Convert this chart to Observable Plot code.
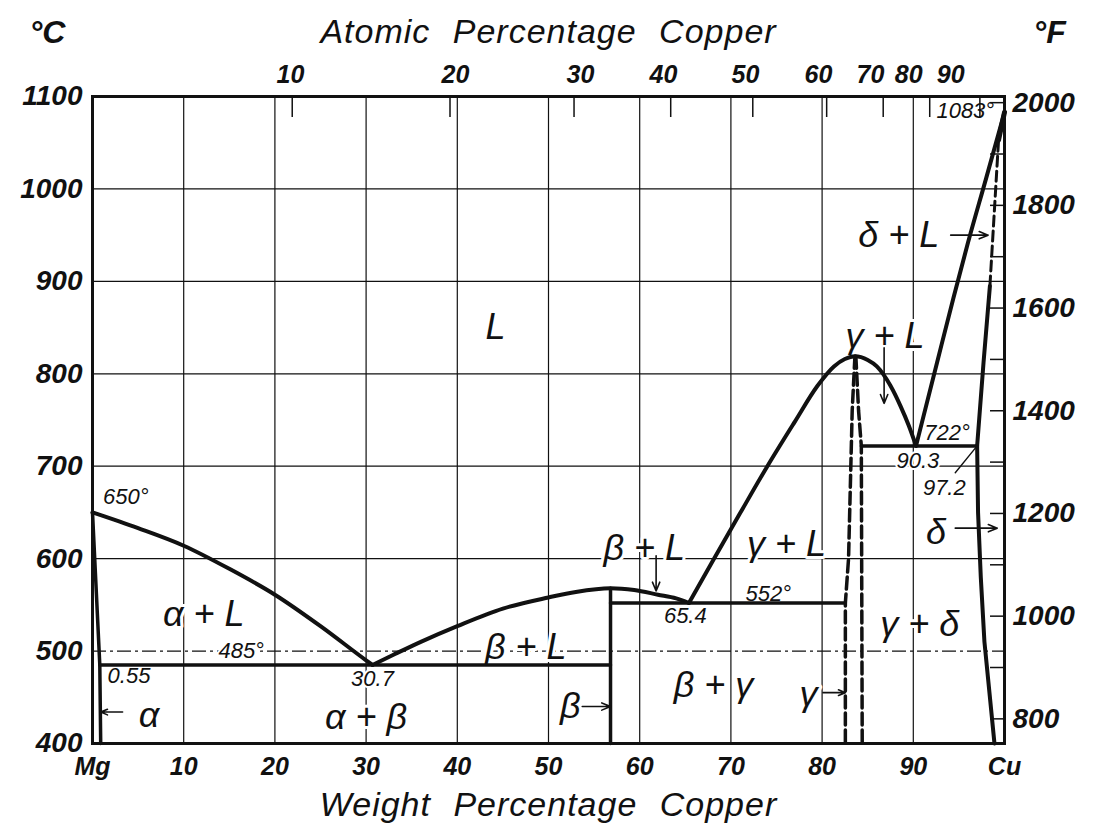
<!DOCTYPE html>
<html><head><meta charset="utf-8">
<script src="https://cdn.jsdelivr.net/npm/d3@7"></script>
<script src="https://cdn.jsdelivr.net/npm/@observablehq/plot@0.6"></script>
<style>body{margin:0;background:#fff} svg{display:block}</style>
</head><body><div id="chart"></div>
<script>
// ---- axis values ----
const weightTicks = [0,10,20,30,40,50,60,70,80,90,100];
const gridWeight = [10,20,30,40,50,60,70,80,90];
const celsiusTicks = [400,500,600,700,800,900,1000,1100];
const gridCelsius = [600,700,800,900,1000];
const dashedCelsius = [500];
const fahrenheitLabels = [800,1000,1200,1400,1600,1800,2000];
const fahrenheitMinor = [800,900,1000,1100,1200,1300,1400,1500,1600,1700,1800,1900,2000];
const atomicLabels = [10,20,30,40,50,60,70,80,90];
const atomicTickWeight = [21.9,39.2,52.8,63.4,72.4,80.5,86.7,91.8,97.3];   // where the atomic ticks sit on the weight scale
const atomicLabelWeight = [21.7,39.8,53.5,62.6,71.6,79.6,85.3,89.5,94.1]; // where their numbers are lettered

// ---- phase boundaries [weight % Cu, °C] ----
const liquidusMg = [[0,650],[5,633],[10,614],[15,589],[20,561],[25,527],[30,490],[30.7,485]];
const liquidusBeta = [[30.7,485],[33,496],[36,510],[40,527],[45,546],[50,558],[53,564],[56.8,568],[59.4,566],[62,561],[64,557],[65.4,552]];
const liquidusGamma = [[65.4,552],[68.1,599],[71,649],[74,700],[77,748],[79.5,787],[81.3,808],[82.5,816],[83.6,819],[85,815],[86,808],[87.5,787],[88.6,765],[89.5,744],[90.3,722]];
const liquidusCu = [[90.3,722],[92.6,812],[94.4,882],[96,942],[98,1012],[100,1083]];
const alphaBoundary = [[0,650],[0.8,485],[0.9,400]];
const betaBoundary = [[56.8,568],[56.8,400]];
const eutectic485 = [[0.8,485],[56.8,485]];
const eutectic552 = [[56.8,552],[82.55,552]];
const eutectic722 = [[84.3,722],[97.0,722]];
const deltaSolvus = [[97.0,722],[97.1,650],[97.4,580],[97.8,510],[98.2,470],[98.9,400]];
const deltaSolidus = [[97.0,722],[97.7,812],[98.4,895]];
const deltaSolidusDashed = [[98.4,895],[99.35,1053]];
const deltaTop = [[99.35,1053],[100,1083]];
const gammaLeft = [[83.6,819],[83.3,760],[82.9,600],[82.55,552],[82.55,400]];
const gammaRight = [[83.7,819],[84.0,760],[84.3,722],[84.4,400]];

// ---- labels ----
const phaseLabels = [
  {text:"L", wt:44.2, t:850},
  {text:"α + L", wt:12.2, t:540},
  {text:"α", wt:6.2, t:430},
  {text:"α + β", wt:30.0, t:428},
  {text:"β + L", wt:47.5, t:504},
  {text:"β", wt:52.4, t:440},
  {text:"β + γ", wt:68.1, t:463},
  {text:"γ", wt:78.5, t:453},
  {text:"β + L", wt:60.5, t:611},
  {text:"γ + L", wt:76.1, t:615},
  {text:"γ + L", wt:86.9, t:840},
  {text:"γ + δ", wt:90.7, t:529},
  {text:"δ", wt:92.5, t:628},
  {text:"δ + L", wt:88.4, t:950}
];
const numberLabels = [
  {text:"650°", wt:3.65, t:667},
  {text:"485°", wt:16.3, t:500},
  {text:"0.55", wt:4.0, t:473},
  {text:"30.7", wt:30.7, t:470},
  {text:"552°", wt:74.1, t:562},
  {text:"65.4", wt:65.0, t:538},
  {text:"722°", wt:93.7, t:736},
  {text:"90.3", wt:90.5, t:706},
  {text:"97.2", wt:93.4, t:676},
  {text:"1083°", wt:95.7, t:1084}
];
const arrows = [
  {wt1:3.3, t1:434, wt2:0.9, t2:434},
  {wt1:53.7, t1:440, wt2:56.8, t2:440},
  {wt1:80.1, t1:455, wt2:82.55, t2:455},
  {wt1:61.8, t1:603, wt2:61.8, t2:565},
  {wt1:86.8, t1:828, wt2:86.8, t2:768},
  {wt1:94.1, t1:950, wt2:98.2, t2:950},
  {wt1:94.6, t1:633, wt2:99.2, t2:633}
];
const leader = [[94.6,693],[97.0,722]];

const titles = {top:"Atomic Percentage Copper", bottom:"Weight Percentage Copper", left:"°C", right:"°F"};

const fToC = f => (f - 32) * 5 / 9;
const INK = "#111";
const FONT = "Liberation Sans, Arial, sans-serif";

const solid = (data, w=4) => Plot.line(data, {x: d => d[0], y: d => d[1], stroke: INK, strokeWidth: w, curve: "monotone-x", strokeLinejoin:"round"});
const straight = (data, w=3.5) => Plot.line(data, {x: d => d[0], y: d => d[1], stroke: INK, strokeWidth: w, curve: "linear", strokeLinejoin:"round"});
const dashed = (data, w=3.5, dash="12,5") => Plot.line(data, {x: d => d[0], y: d => d[1], stroke: INK, strokeWidth: w, strokeDasharray: dash, curve: "linear"});

const svg = Plot.plot({
  width: 1100, height: 831,
  marginLeft: 92, marginRight: 96, marginTop: 96, marginBottom: 88,
  style: {fontFamily: FONT, fontStyle: "italic", background: "#fff", color: INK},
  x: {domain: [0,100]},
  y: {domain: [400,1100]},
  marks: [
    Plot.gridX({ticks: gridWeight, stroke: INK, strokeOpacity: 1, strokeWidth: 1.2}),
    Plot.gridY({ticks: gridCelsius, stroke: INK, strokeOpacity: 1, strokeWidth: 1.2}),
    Plot.gridY({ticks: dashedCelsius, stroke: INK, strokeOpacity: 1, strokeWidth: 1.2, strokeDasharray: "14,4,3,4"}),
    // labels with white halos (cut the grid)
    Plot.text(phaseLabels, {x:"wt", y:"t", text:"text", fontSize: 36, fontStyle:"italic", fill: INK, stroke:"white", strokeWidth: 6}),
    Plot.text(numberLabels, {x:"wt", y:"t", text:"text", fontSize: 22, fontStyle:"italic", fill: INK, stroke:"white", strokeWidth: 4}),
    // phase boundaries
    solid(liquidusMg),
    solid(liquidusBeta),
    solid(liquidusGamma),
    solid(liquidusCu),
    straight(alphaBoundary, 3.5),
    straight(betaBoundary, 3.5),
    straight(eutectic485, 3.5),
    straight(eutectic552, 3.5),
    straight(eutectic722, 3.5),
    straight(deltaSolvus, 4),
    straight(deltaSolidus, 4),
    dashed(deltaSolidusDashed, 3, "10,5"),
    straight(deltaTop, 5),
    dashed(gammaLeft),
    dashed(gammaRight),
    Plot.arrow(arrows, {x1:"wt1", y1:"t1", x2:"wt2", y2:"t2", stroke: INK, strokeWidth: 1.6, headLength: 9, headAngle: 45}),
    Plot.line(leader, {x: d => d[0], y: d => d[1], stroke: INK, strokeWidth: 1.4}),
    Plot.frame({stroke: INK, strokeWidth: 3}),
    // axes
    Plot.axisX({anchor:"bottom", ticks: weightTicks, tickSize: 0, tickPadding: 14, fontSize: 25, fontWeight: "bold", label: null,
      tickFormat: d => d === 0 ? "Mg" : d === 100 ? "Cu" : String(d)}),
    Plot.axisX({anchor:"top", ticks: atomicLabelWeight, tickSize: 0, tickPadding: 14, fontSize: 25, fontWeight: "bold", label: null,
      tickFormat: d => String(atomicLabels[atomicLabelWeight.indexOf(d)])}),
    Plot.axisX({anchor:"top", ticks: atomicTickWeight, tickSize: 20, dy: 20, strokeWidth: 1.5, label: null, tickFormat: () => ""}),
    Plot.axisY({anchor:"left", ticks: celsiusTicks, tickSize: 0, tickPadding: 10, fontSize: 28, fontWeight: "bold", label: null,
      tickFormat: d => String(d)}),
    Plot.axisY({anchor:"right", ticks: fahrenheitLabels.map(fToC), tickSize: 0, tickPadding: 8, fontSize: 28, fontWeight: "bold", label: null,
      tickFormat: c => String(Math.round(c * 9 / 5 + 32))}),
    Plot.axisY({anchor:"right", ticks: fahrenheitMinor.map(fToC), tickSize: 15, dx: -15, strokeWidth: 1.5, label: null, tickFormat: () => ""}),
    // titles
    Plot.text([titles.top], {frameAnchor:"top", dy:-64, text: d => d, fontSize: 34, textAnchor:"middle", lineAnchor:"middle", fill: INK}),
    Plot.text([titles.bottom], {frameAnchor:"bottom", dy:62, text: d => d, fontSize: 34, textAnchor:"middle", lineAnchor:"middle", fill: INK}),
    Plot.text([titles.left], {frameAnchor:"top-left", dx:-45, dy:-64, text: d => d, fontSize: 32, fontWeight: "bold", textAnchor:"middle", lineAnchor:"middle", fill: INK}),
    Plot.text([titles.right], {frameAnchor:"top-right", dx:45, dy:-64, text: d => d, fontSize: 32, fontWeight: "bold", textAnchor:"middle", lineAnchor:"middle", fill: INK})
  ]
});
svg.querySelectorAll("text").forEach(t => {
  if (t.textContent === titles.top || t.textContent === titles.bottom) {
    t.style.letterSpacing = "1px";
    t.style.wordSpacing = "12px";
  }
});
document.getElementById("chart").appendChild(svg);
</script>
</body></html>
